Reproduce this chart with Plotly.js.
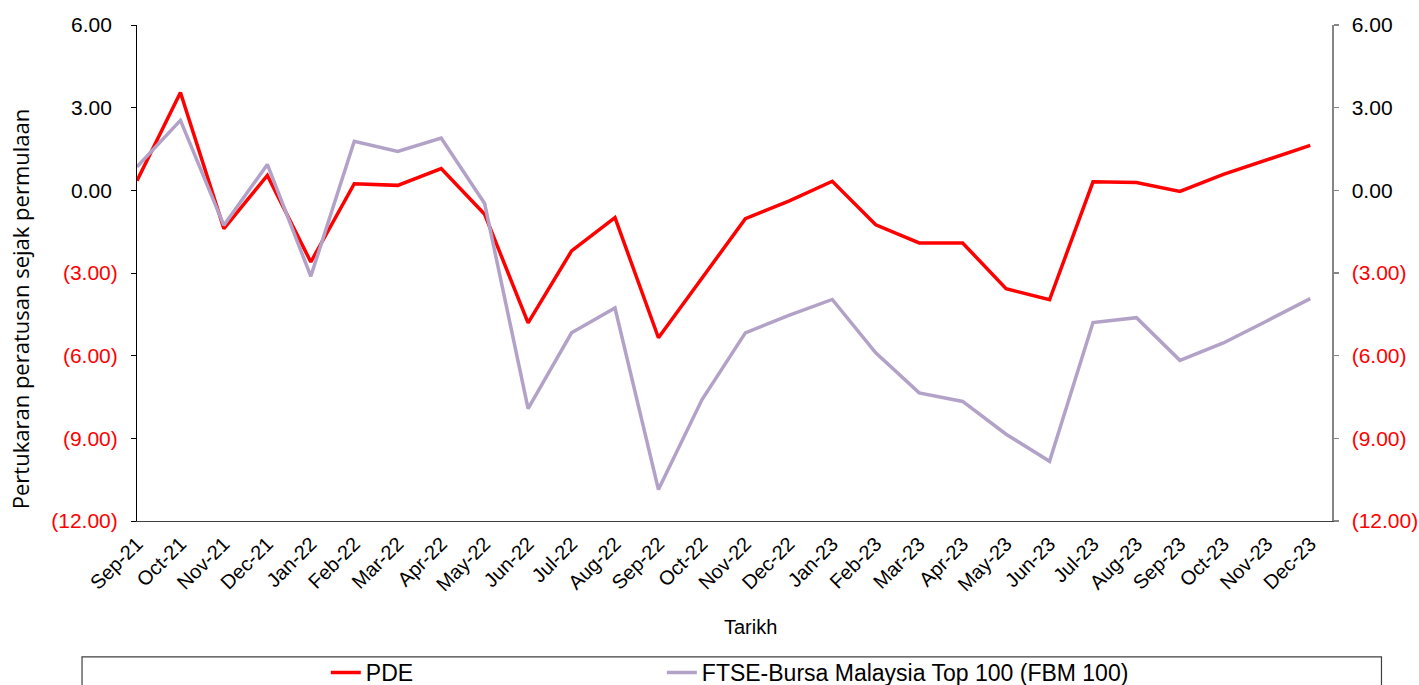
<!DOCTYPE html>
<html>
<head>
<meta charset="utf-8">
<script src="https://cdn.plot.ly/plotly-3.0.1.min.js"></script>
<style>html,body{margin:0;padding:0;background:#fff;}#chart{width:1419px;height:685px;}</style>
</head>
<body>
<div id="chart"></div>
<script>
const categories = ["Sep-21","Oct-21","Nov-21","Dec-21","Jan-22","Feb-22","Mar-22","Apr-22","May-22","Jun-22","Jul-22","Aug-22","Sep-22","Oct-22","Nov-22","Dec-22","Jan-23","Feb-23","Mar-23","Apr-23","May-23","Jun-23","Jul-23","Aug-23","Sep-23","Oct-23","Nov-23","Dec-23"];
const pdeValues = [0.35, 3.55, -1.39, 0.54, -2.60, 0.24, 0.18, 0.79, -0.87, -4.81, -2.20, -0.99, -5.35, -3.17, -1.03, -0.39, 0.33, -1.25, -1.91, -1.91, -3.57, -3.97, 0.31, 0.28, -0.04, 0.58, 1.09, 1.63];
const fbmValues = [0.85, 2.54, -1.27, 0.94, -3.12, 1.78, 1.41, 1.90, -0.48, -7.92, -5.17, -4.27, -10.86, -7.60, -5.17, -4.54, -3.96, -5.90, -7.35, -7.66, -8.85, -9.83, -4.80, -4.62, -6.17, -5.54, -4.74, -3.93];
const yTickVals = [6, 3, 0, -3, -6, -9, -12];
const yTickText = ["6.00\u2008", "3.00\u2008", "0.00\u2008", "(3.00)", "(6.00)", "(9.00)", "(12.00)"];
const seriesNames = ["PDE", "FTSE-Bursa Malaysia Top 100 (FBM 100)"];
const yTitle = "Pertukaran peratusan sejak permulaan";
const xTitle = "Tarikh";

const ticktextColored = yTickText.map((t, i) => yTickVals[i] < 0 ? '<span style="color:#FF0000">' + t + '</span>' : t);

const traces = [
  {x: categories, y: pdeValues, type: 'scatter', mode: 'lines', name: seriesNames[0],
   line: {color: '#FF0000', width: 3.5}, yaxis: 'y', legend: 'legend'},
  {x: categories, y: fbmValues, type: 'scatter', mode: 'lines', name: seriesNames[1],
   line: {color: '#B3A2C7', width: 3.5}, yaxis: 'y2', legend: 'legend2'}
];

const tickFont = {family: 'Liberation Sans, Arial, sans-serif', size: 21, color: '#000000'};
const legendFont = {family: 'Liberation Sans, Arial, sans-serif', size: 23, color: '#000000'};

const layout = {
  width: 1419, height: 685,
  margin: {l: 137, r: 87, t: 25, b: 164, pad: 0, autoexpand: false},
  paper_bgcolor: '#ffffff', plot_bgcolor: '#ffffff',
  showlegend: true,
  xaxis: {
    type: 'category', range: [0, 27.5], showgrid: false, zeroline: false,
    showline: true, linecolor: '#404040', linewidth: 1.2, ticks: '',
    tickangle: -45, tickfont: {family: 'Liberation Sans, Arial, sans-serif', size: 20, color: '#000000'},
    ticklabelstandoff: 2
  },
  yaxis: {
    range: [-12, 6], tickvals: yTickVals, ticktext: ticktextColored,
    showgrid: false, zeroline: false, showline: true, linecolor: '#000000', linewidth: 1,
    ticks: 'outside', ticklen: 5, tickcolor: '#000000', tickwidth: 1,
    tickfont: tickFont, ticklabelstandoff: 9
  },
  yaxis2: {
    range: [-12, 6], tickvals: yTickVals, ticktext: ticktextColored,
    overlaying: 'y', side: 'right', anchor: 'x',
    showgrid: false, zeroline: false, showline: true, linecolor: '#868686', linewidth: 1.5,
    ticks: 'outside', ticklen: 5, tickcolor: '#868686', tickwidth: 1.5,
    tickfont: tickFont, ticklabelstandoff: 9
  },
  legend: {
    orientation: 'h', x: 0.158, xanchor: 'left', y: -0.262, yanchor: 'top',
    font: legendFont, bgcolor: 'rgba(0,0,0,0)', borderwidth: 0
  },
  legend2: {
    orientation: 'h', x: 0.4392, xanchor: 'left', y: -0.262, yanchor: 'top',
    font: legendFont, bgcolor: 'rgba(0,0,0,0)', borderwidth: 0
  },
  shapes: [
    {type: 'rect', xref: 'paper', yref: 'paper', x0: -0.046, x1: 1.0414, y0: -0.274, y1: -0.40,
     line: {color: '#404040', width: 1.2}, fillcolor: 'rgba(0,0,0,0)', layer: 'below'}
  ],
  annotations: [
    {text: yTitle, xref: 'paper', yref: 'paper', x: -0.0979, y: 0.427, xanchor: 'center', yanchor: 'middle',
     textangle: -90, showarrow: false, font: {family: 'Open Sans, Noto Sans, sans-serif', size: 22, color: '#000000'}},
    {text: xTitle, xref: 'paper', yref: 'paper', x: 0.513, y: -0.2137, xanchor: 'center', yanchor: 'middle',
     showarrow: false, font: {family: 'Liberation Sans, Arial, sans-serif', size: 20, color: '#000000'}}
  ]
};

Plotly.newPlot('chart', traces, layout, {displayModeBar: false, staticPlot: true});
</script>
</body>
</html>
